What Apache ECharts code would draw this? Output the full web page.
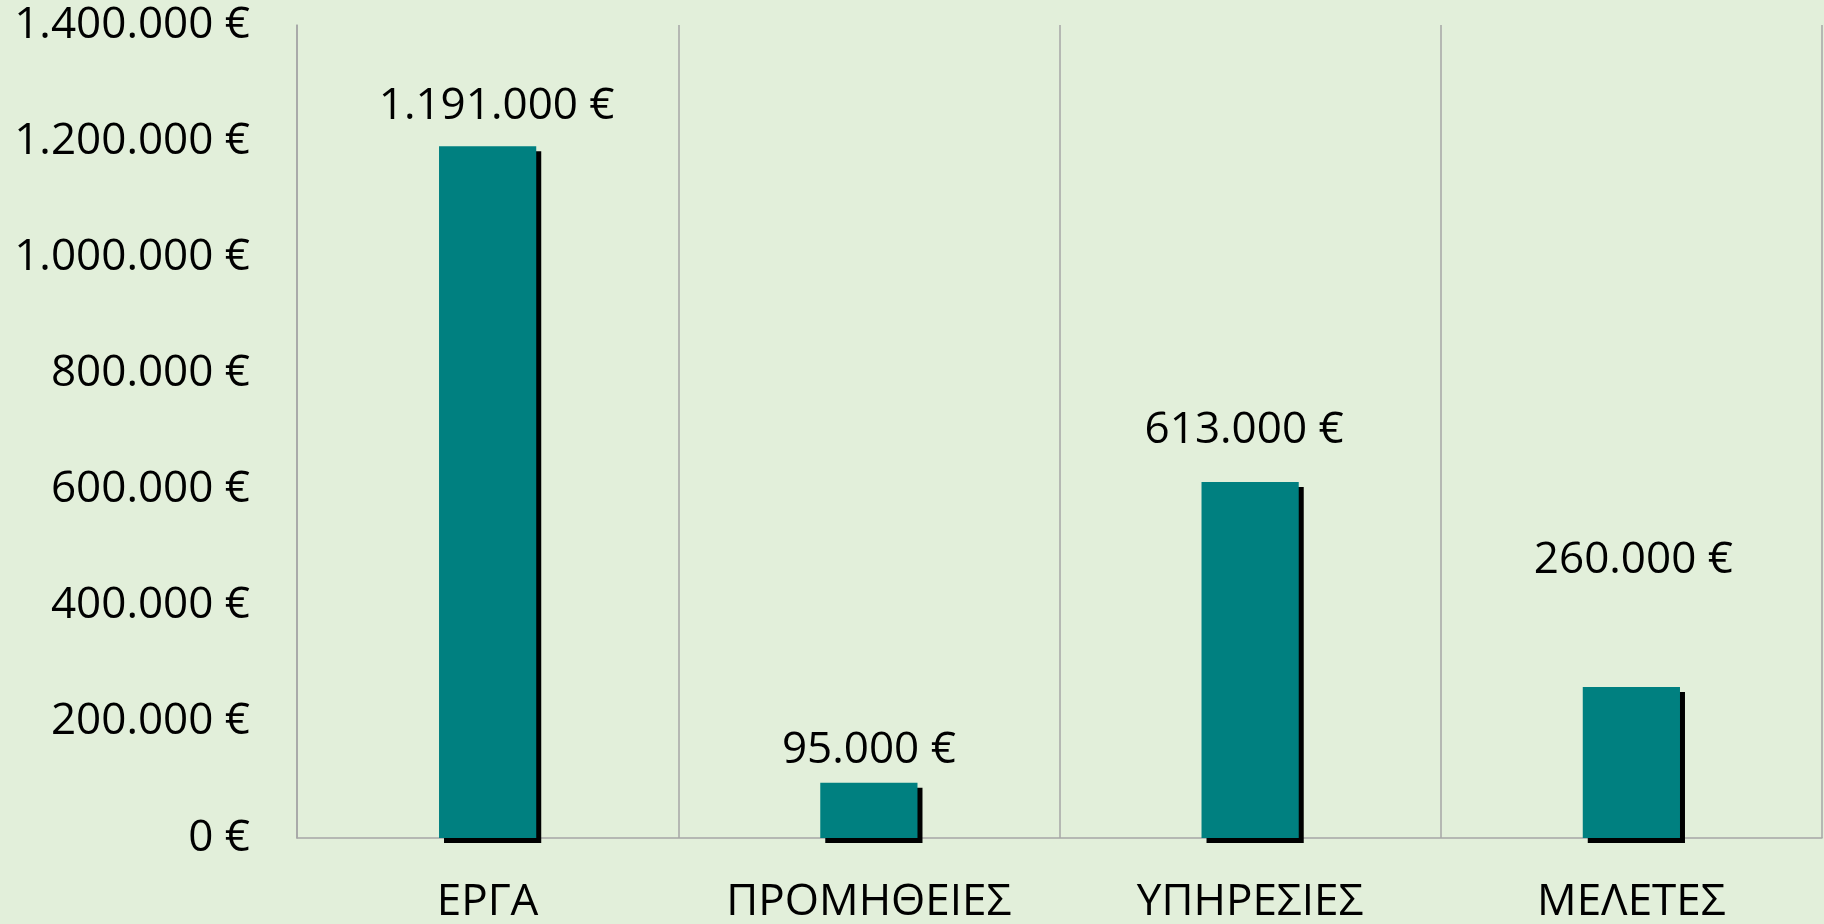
<!DOCTYPE html>
<html>
<head>
<meta charset="utf-8">
<script src="https://cdn.jsdelivr.net/npm/echarts@6/dist/echarts.min.js"></script>
<style>
  html, body { margin: 0; padding: 0; background: #e2efda; }
  #chart { width: 1824px; height: 924px; }
</style>
</head>
<body>
<div id="chart"></div>
<script>
const categories = ['ΕΡΓΑ', 'ΠΡΟΜΗΘΕΙΕΣ', 'ΥΠΗΡΕΣΙΕΣ', 'ΜΕΛΕΤΕΣ'];
const amounts = [1191000, 95000, 613000, 260000];
const yTicks = [0, 200000, 400000, 600000, 800000, 1000000, 1200000, 1400000];

// label placement as in the original (excel labels sit at different heights)
const labelLift = [18, 10, 30, 105];
const labelShift = [9, 0, -6, 2];

const euro = v => String(v).replace(/\B(?=(\d{3})+(?!\d))/g, '.') + ' €';
const FONT = '"Open Sans", "Noto Sans", sans-serif';

const chart = echarts.init(document.getElementById('chart'));

chart.setOption({
  backgroundColor: '#e2efda',
  animation: false,
  grid: { left: 297, right: 2, top: 25, bottom: 84 },
  xAxis: {
    type: 'category',
    data: categories,
    axisLine: { lineStyle: { color: '#a6a6a6', width: 1.5 } },
    axisTick: { show: false },
    splitLine: { show: true, lineStyle: { color: '#a6a6a6', width: 1.5 } },
    axisLabel: { color: '#000', fontFamily: FONT, fontSize: 44, margin: 42 }
  },
  yAxis: {
    type: 'value',
    min: yTicks[0],
    max: yTicks[yTicks.length - 1],
    interval: yTicks[1] - yTicks[0],
    axisLine: { show: true, lineStyle: { color: '#a6a6a6', width: 1.5 } },
    axisTick: { show: false },
    splitLine: { show: false },
    axisLabel: {
      color: '#000', fontFamily: FONT, fontSize: 44, margin: 47,
      formatter: euro
    }
  },
  series: [{
    type: 'bar',
    barWidth: '25.5%',
    barCategoryGap: '0%',
    data: amounts.map((v, i) => ({
      value: v,
      label: { distance: labelLift[i], offset: [labelShift[i], 0] }
    })),
    itemStyle: {
      color: '#008080',
      shadowColor: '#000',
      shadowBlur: 0,
      shadowOffsetX: 5,
      shadowOffsetY: 5
    },
    label: {
      show: true,
      position: 'top',
      color: '#000',
      fontFamily: FONT,
      fontSize: 44,
      formatter: p => euro(p.value)
    }
  }]
});

window.addEventListener('resize', () => { chart.resize(); });
</script>
</body>
</html>
